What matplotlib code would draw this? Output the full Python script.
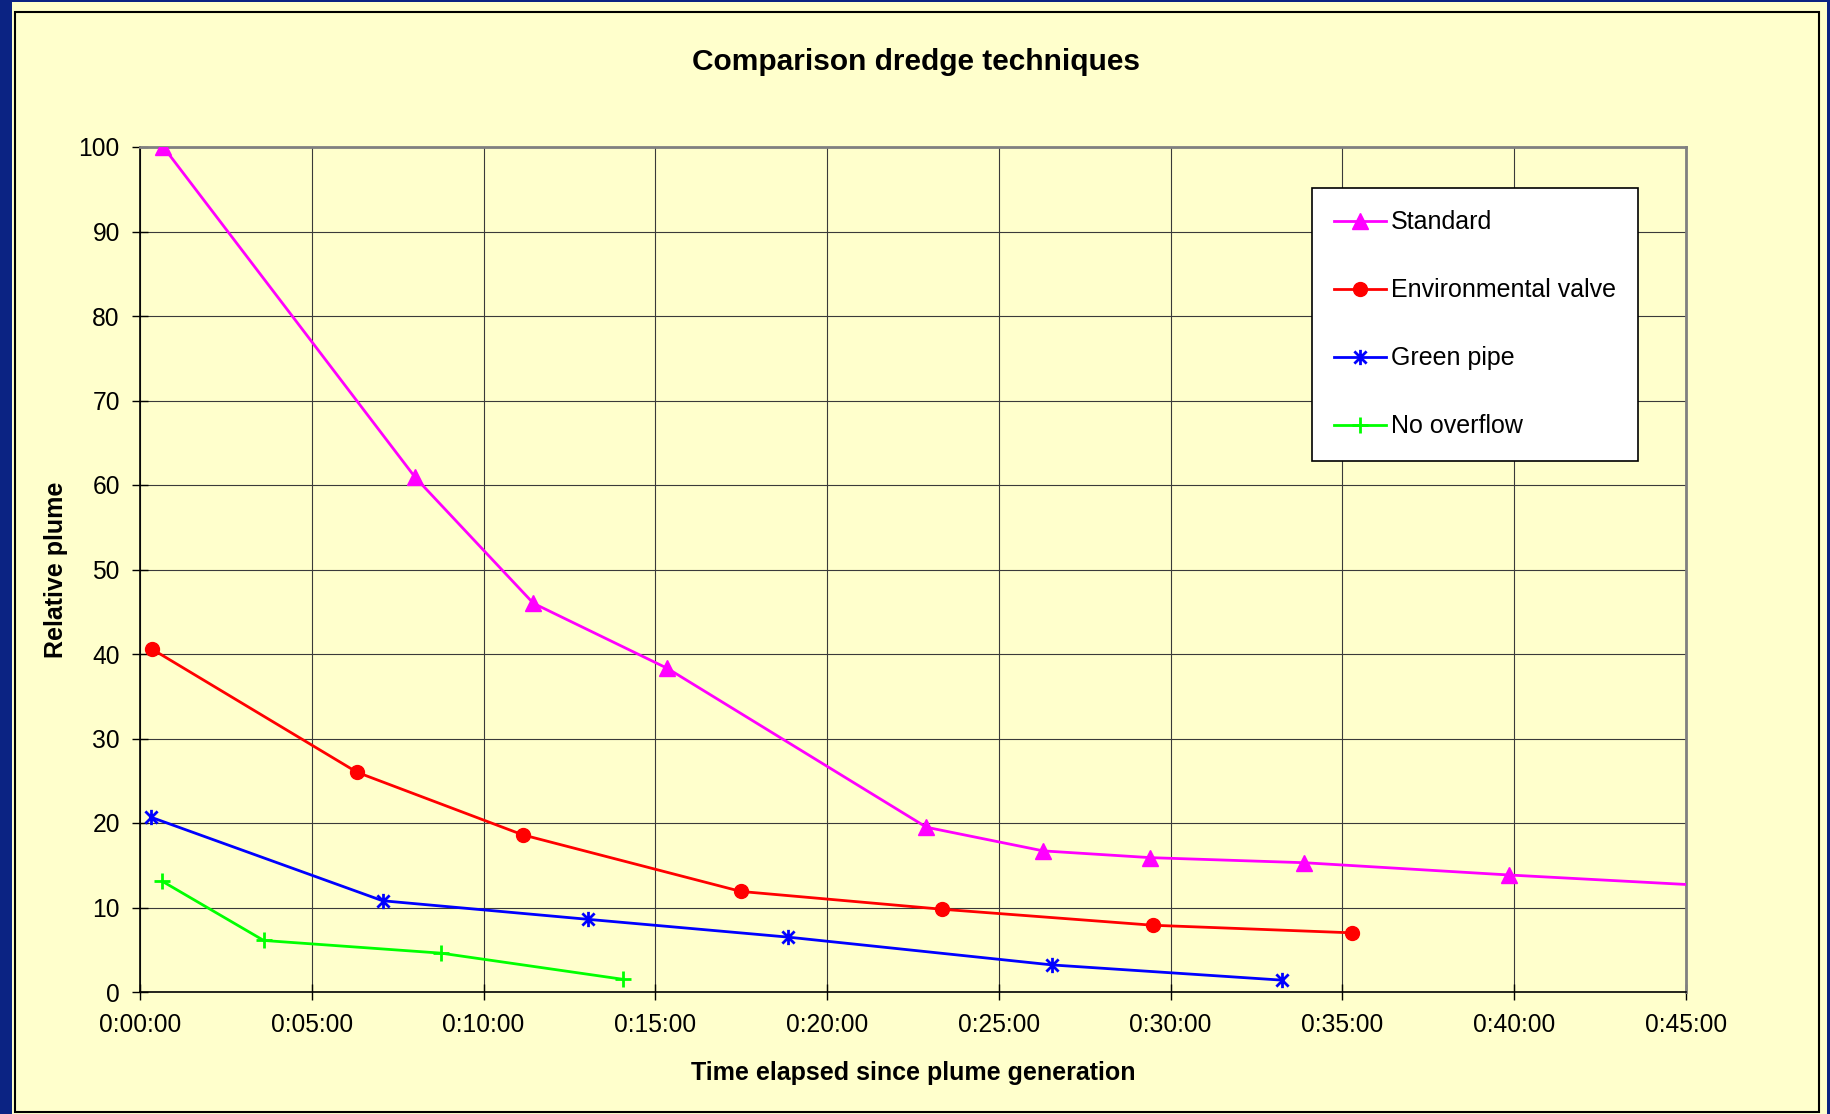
import matplotlib
matplotlib.use("Agg")
import matplotlib.pyplot as plt
from matplotlib.path import Path
from matplotlib.patches import Rectangle
from matplotlib.ticker import FuncFormatter, MultipleLocator

plt.rcParams['font.family'] = ['Liberation Sans', 'DejaVu Sans']

# Elapsed time in minutes, relative plume in %
standard_t = [0.68, 8.01, 11.45, 15.35, 22.89, 26.29, 29.41, 33.89, 39.84, 46.5]
standard_v = [100.0, 60.9, 46.0, 38.3, 19.5, 16.7, 15.9, 15.3, 13.85, 12.4]

env_valve_t = [0.34, 6.32, 11.14, 17.49, 23.33, 29.48, 35.29]
env_valve_v = [40.6, 26.0, 18.6, 11.9, 9.8, 7.9, 7.0]

green_pipe_t = [0.31, 7.06, 13.04, 18.85, 26.56, 33.25]
green_pipe_v = [20.7, 10.8, 8.6, 6.5, 3.2, 1.4]

no_overflow_t = [0.65, 3.60, 8.76, 14.06]
no_overflow_v = [13.1, 6.1, 4.6, 1.5]

series_names = ["Standard", "Environmental valve", "Green pipe", "No overflow"]

BG = "#FFFFCC"
NAVY = "#0B2383"

# Excel-style asterisk: an X crossed by a vertical bar
asterisk = Path(
    [(0, -1), (0, 1), (-0.8, -0.8), (0.8, 0.8), (-0.8, 0.8), (0.8, -0.8)],
    [Path.MOVETO, Path.LINETO, Path.MOVETO, Path.LINETO, Path.MOVETO, Path.LINETO],
)

fig = plt.figure(figsize=(18.3, 11.14), dpi=100, facecolor=BG)

# Outer frame: navy edge strips and a thin black inner rectangle
fig.patches.append(Rectangle((0, 0), 12 / 1830, 1, transform=fig.transFigure,
                             facecolor=NAVY, edgecolor="none", zorder=0))
fig.patches.append(Rectangle((0, 1 - 1.5 / 1114), 1, 1.5 / 1114, transform=fig.transFigure,
                             facecolor=NAVY, edgecolor="none", zorder=0))
fig.patches.append(Rectangle((1 - 3 / 1830, 0), 3 / 1830, 1, transform=fig.transFigure,
                             facecolor=NAVY, edgecolor="none", zorder=0))
fig.patches.append(Rectangle((14.5 / 1830, 2 / 1114), (1819 - 14.5) / 1830, (1102 - 2) / 1114,
                             transform=fig.transFigure, facecolor="none",
                             edgecolor="black", linewidth=1.5, zorder=1))

ax = fig.add_axes([140 / 1830, 1 - 992 / 1114, (1686 - 140) / 1830, (992 - 147) / 1114])
ax.set_facecolor(BG)

ax.plot(standard_t, standard_v, color="#FF00FF", lw=2, marker="^", ms=11.5,
        label=series_names[0], clip_on=True, zorder=3)
ax.plot(env_valve_t, env_valve_v, color="#FF0000", lw=2, marker="o", ms=10,
        label=series_names[1], zorder=3)
ax.plot(green_pipe_t, green_pipe_v, color="#0000FF", lw=2, marker=asterisk, ms=11,
        mew=2, label=series_names[2], zorder=3)
ax.plot(no_overflow_t, no_overflow_v, color="#00FF00", lw=2, marker="+", ms=11,
        mew=2, label=series_names[3], zorder=3)

ax.set_xlim(0, 45)
ax.set_ylim(0, 100)
ax.xaxis.set_major_locator(MultipleLocator(5))
ax.yaxis.set_major_locator(MultipleLocator(10))


def hms(m, _pos):
    total = int(round(m * 60))
    return f"{total // 3600}:{(total % 3600) // 60:02d}:{total % 60:02d}"


ax.xaxis.set_major_formatter(FuncFormatter(hms))

ax.grid(True, color="#3a3a3a", linewidth=0.8)
ax.set_axisbelow(True)
ax.tick_params(axis="both", direction="inout", length=11, width=1, labelsize=17.7,
               colors="black")
ax.tick_params(axis="x", pad=9.6)
ax.tick_params(axis="y", pad=9)

for side in ("left", "bottom"):
    ax.spines[side].set_color("black")
    ax.spines[side].set_linewidth(1.2)
for side in ("top", "right"):
    ax.spines[side].set_color("#808080")
    ax.spines[side].set_linewidth(2)

fig.text(916 / 1830, 1 - 61.5 / 1114, "Comparison dredge techniques", ha="center",
         va="center", fontsize=21.5, fontweight="bold")
fig.text(913 / 1830, 1 - 1073 / 1114, "Time elapsed since plume generation", ha="center",
         va="center", fontsize=18, fontweight="bold")
fig.text(56 / 1830, 1 - 570 / 1114, "Relative plume", ha="center", va="center",
         rotation=90, fontsize=18, fontweight="bold")

leg = ax.legend(loc="upper left", bbox_to_anchor=(0.758, 0.9515), fontsize=18,
                frameon=True, fancybox=False, edgecolor="black", facecolor="white",
                framealpha=1, borderpad=0.9, labelspacing=1.76, handlelength=2.05,
                handletextpad=0.2, borderaxespad=0)
leg.get_frame().set_linewidth(1.2)

fig.savefig("out.png", dpi=100, facecolor=BG)
